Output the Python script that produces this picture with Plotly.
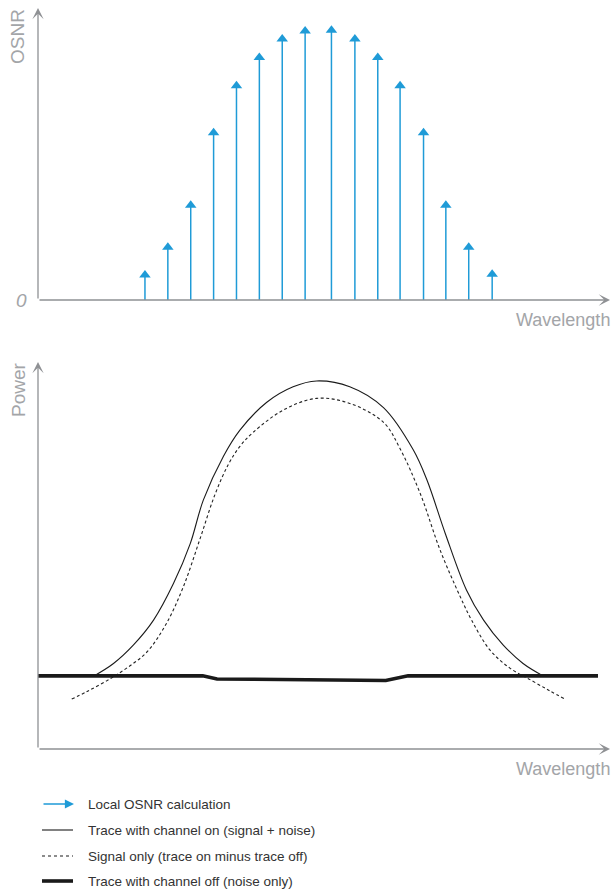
import plotly.graph_objects as go

# ---------------- data ----------------
# Top chart: local OSNR per channel (arbitrary units)
channel_pos = [18.7, 22.7, 26.7, 30.7, 34.7, 38.7, 42.7, 46.7,
               51.3, 55.4, 59.4, 63.3, 67.4, 71.3, 75.3, 79.4]
osnr_vals = [10.3, 19.8, 34.2, 59.0, 75.1, 84.8, 91.1, 93.8,
             94.1, 91.1, 84.8, 75.1, 59.0, 34.2, 19.8, 10.5]

# Bottom chart: power traces (arbitrary units)
on_x = [9.8, 13.2, 16.7, 20.2, 23.7, 26.6, 28.9, 32.4, 35.3, 40.0, 44.6, 48.7,
        54.5, 60.4, 65.6, 68.0, 71.2, 74.9, 77.9, 81.3, 84.8, 88.3]
on_y = [18.9, 22.1, 26.9, 33.3, 42.8, 53.0, 64.3, 75.6, 82.4, 89.6, 93.6, 95.1,
        93.6, 88.2, 77.3, 69.5, 55.7, 41.1, 33.3, 26.9, 22.1, 18.9]

sig_x = [5.9, 8.5, 12.0, 15.5, 19.0, 22.4, 25.4, 28.3, 30.9, 33.3, 35.3, 37.6, 42.9,
         48.7, 54.5, 60.4, 63.3, 66.8, 70.3, 73.8, 75.8, 79.0, 82.5, 86.4, 89.5, 92.1]
sig_y = [12.9, 14.8, 17.6, 20.9, 25.0, 32.3, 41.9, 54.2, 65.6, 73.6, 78.2, 81.8, 87.6,
         90.6, 89.3, 84.4, 77.6, 66.1, 51.4, 39.4, 33.3, 25.6, 20.9, 17.6, 15.0, 12.9]

off_x = [0, 28.8, 31.3, 60.8, 64.7, 97.9]
off_y = [18.9, 18.9, 18.1, 17.7, 18.9, 18.9]

legend_labels = ["Local OSNR calculation",
                 "Trace with channel on (signal + noise)",
                 "Signal only (trace on minus trace off)",
                 "Trace with channel off (noise only)"]

# ---------------- layout geometry ----------------
W, H = 613, 892
X0, X1 = 38, 610          # x axis pixels
T_Y0, T_Y1 = 300, 8       # top chart y pixels (bottom, top)
B_Y0, B_Y1 = 749, 362     # bottom chart y pixels

def px(x):
    return x / W

def py(y):
    return 1 - y / H

BLUE = "#1f9bd7"
GREY = "#8f9194"
LABEL_GREY = "#a3a5a8"
FONT = "Liberation Sans"

fig = go.Figure()

# stems
top_px_per_unit = (T_Y0 - T_Y1) / 100.0
head_off = 5 / top_px_per_unit
stem_x, stem_y = [], []
for xv, yv in zip(channel_pos, osnr_vals):
    stem_x += [xv, xv, None]
    stem_y += [0, yv - head_off, None]
fig.add_trace(go.Scatter(x=stem_x, y=stem_y, mode="lines",
                         line=dict(color=BLUE, width=1.5),
                         xaxis="x", yaxis="y", showlegend=False, hoverinfo="skip"))
fig.add_trace(go.Scatter(x=channel_pos, y=[v - head_off for v in osnr_vals], mode="markers",
                         marker=dict(symbol="triangle-up", size=10, color=BLUE, line=dict(width=0)),
                         xaxis="x", yaxis="y", showlegend=False))

# bottom traces
fig.add_trace(go.Scatter(x=sig_x, y=sig_y, mode="lines",
                         line=dict(color="#222222", width=1.1, dash="3px,2.5px", shape="spline", smoothing=1.0),
                         xaxis="x2", yaxis="y2", showlegend=False))
fig.add_trace(go.Scatter(x=on_x, y=on_y, mode="lines",
                         line=dict(color="#1a1a1a", width=1.1, shape="spline", smoothing=1.0),
                         xaxis="x2", yaxis="y2", showlegend=False))
fig.add_trace(go.Scatter(x=off_x, y=off_y, mode="lines",
                         line=dict(color="#1a1a1a", width=3.6),
                         xaxis="x2", yaxis="y2", showlegend=False))

ax_common = dict(showgrid=False, zeroline=False, showticklabels=False, ticks="",
                 showline=False, fixedrange=True)

fig.update_layout(
    width=W, height=H,
    margin=dict(l=0, r=0, t=0, b=0),
    paper_bgcolor="white", plot_bgcolor="white",
    showlegend=False,
    xaxis=dict(domain=[px(X0), px(X1)], range=[0, 100], anchor="y", **ax_common),
    yaxis=dict(domain=[py(T_Y0), py(T_Y1)], range=[0, 100], anchor="x", **ax_common),
    xaxis2=dict(domain=[px(X0), px(X1)], range=[0, 100], anchor="y2", **ax_common),
    yaxis2=dict(domain=[py(B_Y0), py(B_Y1)], range=[0, 100], anchor="x2", **ax_common),
)

annotations = []
# axis arrows
for xr, yr in [("x", "y"), ("x2", "y2")]:
    annotations.append(dict(x=100, y=0, ax=0, ay=0, xref=xr, yref=yr, axref=xr, ayref=yr,
                            showarrow=True, arrowhead=3, arrowsize=1.45, arrowwidth=1.3,
                            arrowcolor=GREY, text=""))
    annotations.append(dict(x=0, y=100, ax=0, ay=0, xref=xr, yref=yr, axref=xr, ayref=yr,
                            showarrow=True, arrowhead=3, arrowsize=1.45, arrowwidth=1.3,
                            arrowcolor=GREY, text=""))

def label(text, x, y, xanchor="center", yanchor="middle", size=17, angle=0, color=LABEL_GREY, italic=False):
    annotations.append(dict(text=text, x=px(x), y=py(y), xref="paper", yref="paper",
                            xanchor=xanchor, yanchor=yanchor, showarrow=False, textangle=angle,
                            font=dict(family=FONT, size=size, color=color,
                                      style="italic" if italic else "normal")))

label("OSNR", 18, 37, angle=-90, size=19)
label("0", 22, 301, size=19, italic=True)
label("Wavelength", 612, 320, xanchor="right", size=18)
label("Power", 18, 390, angle=-90, size=19)
label("Wavelength", 612, 769, xanchor="right", size=18)

# legend
rows = [804, 830, 856, 881]
for lab, ry in zip(legend_labels, rows):
    label(lab, 86, ry, xanchor="left", size=13.5, color="#333333")

annotations.append(dict(x=px(74), y=py(rows[0]), ax=-32, ay=0,
                        xref="paper", yref="paper", axref="pixel", ayref="pixel",
                        showarrow=True, arrowhead=2, arrowsize=1.3, arrowwidth=1.4,
                        arrowcolor=BLUE, text=""))

shapes = [
    dict(type="line", xref="paper", yref="paper", x0=px(42), x1=px(73), y0=py(rows[1]), y1=py(rows[1]),
         line=dict(color="#1a1a1a", width=1.1)),
    dict(type="line", xref="paper", yref="paper", x0=px(42), x1=px(73), y0=py(rows[2]), y1=py(rows[2]),
         line=dict(color="#1a1a1a", width=1.1, dash="3px,3px")),
    dict(type="line", xref="paper", yref="paper", x0=px(42), x1=px(73), y0=py(rows[3]), y1=py(rows[3]),
         line=dict(color="#1a1a1a", width=3.6)),
]

fig.update_layout(annotations=annotations, shapes=shapes)
fig.write_html("out.html")
